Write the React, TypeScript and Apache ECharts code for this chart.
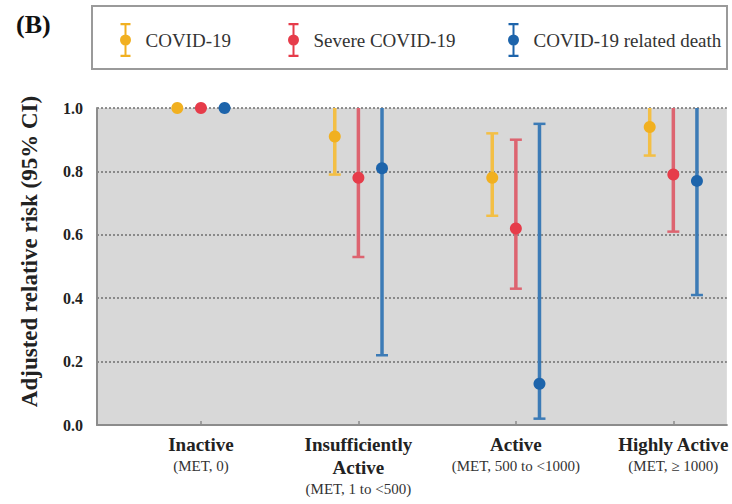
import React, { useEffect, useRef } from "react";
import * as echarts from "echarts";

const categories = ["Inactive", "Insufficiently\nActive", "Active", "Highly Active"];
const metLabels = ["(MET, 0)", "(MET, 1 to <500)", "(MET, 500 to <1000)", "(MET, \u2265 1000)"];

const seriesNames = ["COVID-19", "Severe COVID-19", "COVID-19 related death"];

const covidRR = [1.0, 0.91, 0.78, 0.94];
const covidLow = [1.0, 0.79, 0.66, 0.85];
const covidHigh = [1.0, 1.04, 0.92, 1.04];

const severeRR = [1.0, 0.78, 0.62, 0.79];
const severeLow = [1.0, 0.53, 0.43, 0.61];
const severeHigh = [1.0, 1.15, 0.9, 1.02];

const deathRR = [1.0, 0.81, 0.13, 0.77];
const deathLow = [1.0, 0.22, 0.02, 0.41];
const deathHigh = [1.0, 2.9, 0.95, 1.45];

const FONT = "'Liberation Serif', 'Times New Roman', serif";

const ICON =
  "path://M1,0 H11 V2.2 H1 Z M5,0 H7 V34 H5 Z M1,31.8 H11 V34 H1 Z M11.5,17 A5.5,5.5 0 1,1 0.5,17 A5.5,5.5 0 1,1 11.5,17 Z";

export default function App() {
  const ref = useRef<HTMLDivElement>(null);
  useEffect(() => {
    if (!ref.current) return;
    const chart = echarts.init(ref.current, null, { renderer: "svg" });

    const defs = [
      { name: seriesNames[0], rr: covidRR, low: covidLow, high: covidHigh, color: "#f1b020", line: "#f3bf45", offset: -0.15 },
      { name: seriesNames[1], rr: severeRR, low: severeLow, high: severeHigh, color: "#e63c4a", line: "#dd6470", offset: 0 },
      { name: seriesNames[2], rr: deathRR, low: deathLow, high: deathHigh, color: "#1d64ab", line: "#3c7bb6", offset: 0.15 },
    ];

    const catPositions = categories.map((_, i) => i);

    const series = defs.map((d) => ({
      type: "custom",
      name: d.name,
      color: d.color,
      itemStyle: { color: d.color },
      encode: { x: 0, y: [1, 2, 3] },
      data: d.rr.map((v, i) => [i + d.offset, v, d.low[i], d.high[i]]),
      renderItem: (params: any, api: any) => {
        const x = api.value(0);
        const mid = api.value(1);
        const lo = api.value(2);
        const hi = api.value(3);
        const cs = params.coordSys;
        const top = cs.y;
        const bottom = cs.y + cs.height;
        const pMid = api.coord([x, mid]);
        const pLo = api.coord([x, lo]);
        const pHi = api.coord([x, hi]);
        const px = pMid[0];
        const children: any[] = [];
        if (lo !== hi) {
          const yHi = Math.max(pHi[1], top);
          const yLo = Math.min(pLo[1], bottom);
          children.push({
            type: "line",
            shape: { x1: px, y1: yLo, x2: px, y2: yHi },
            style: { stroke: d.line, lineWidth: 3.5 },
          });
          if (pHi[1] >= top - 0.5) {
            children.push({
              type: "line",
              shape: { x1: px - 6, y1: pHi[1], x2: px + 6, y2: pHi[1] },
              style: { stroke: d.line, lineWidth: 2.5 },
            });
          }
          if (pLo[1] <= bottom + 0.5) {
            children.push({
              type: "line",
              shape: { x1: px - 6, y1: pLo[1], x2: px + 6, y2: pLo[1] },
              style: { stroke: d.line, lineWidth: 2.5 },
            });
          }
        }
        children.push({
          type: "circle",
          shape: { cx: px, cy: pMid[1], r: 6 },
          style: { fill: d.color },
        });
        return { type: "group", children };
      },
    }));

    const legendLefts = [115, 283, 503];

    const option: any = {
      animation: false,
      title: {
        text: "(B)",
        left: 11,
        top: 6,
        textStyle: { fontFamily: FONT, fontWeight: "bold", fontSize: 26, color: "#111" },
      },
      graphic: [
        {
          type: "rect",
          shape: { x: 92, y: 6, width: 635, height: 63 },
          style: { fill: "#fff", stroke: "#9a9a9a", lineWidth: 2 },
          z: -1,
        },
      ],
      legend: defs.map((d, i) => ({
        left: legendLefts[i],
        top: 18,
        itemWidth: 30,
        itemHeight: 34,
        selectedMode: false,
        data: [{ name: d.name, icon: ICON }],
        textStyle: { fontFamily: FONT, fontSize: 19, color: "#333" },
      })),
      grid: {
        left: 97,
        right: 5,
        top: 108,
        bottom: 79,
        show: true,
        backgroundColor: "#d8d8d8",
        borderWidth: 0,
      },
      xAxis: {
        type: "value",
        min: -0.66,
        max: 3.34,
        axisLine: { show: true, onZero: false, lineStyle: { color: "#8c8c8c", width: 2 } },
        axisTick: {
          show: true,
          inside: true,
          length: 4,
          customValues: catPositions,
          lineStyle: { color: "#8c8c8c", width: 1.5 },
        },
        axisLabel: {
          show: true,
          margin: 8,
          customValues: catPositions,
          formatter: (v: number) => {
            const i = Math.round(v);
            const lines = (categories[i] || "").split("\n").map((s) => `{b|${s}}`);
            return lines.join("\n") + `\n{s|${metLabels[i]}}`;
          },
          rich: {
            b: { fontFamily: FONT, fontWeight: "bold", fontSize: 19, lineHeight: 23, color: "#222" },
            s: { fontFamily: FONT, fontSize: 15, lineHeight: 20, color: "#333" },
          },
        },
        splitLine: { show: false },
      },
      yAxis: {
        type: "value",
        min: 0,
        max: 1,
        interval: 0.2,
        name: "Adjusted relative risk (95% CI)",
        nameLocation: "middle",
        nameGap: 56,
        nameTextStyle: {
          fontFamily: FONT,
          fontWeight: "bold",
          fontSize: 23,
          color: "#222",
          padding: [0, 0, 0, 30],
        },
        axisLine: { show: true, onZero: false, lineStyle: { color: "#8c8c8c", width: 2 } },
        axisTick: { show: false },
        axisLabel: {
          formatter: (v: number) => v.toFixed(1),
          fontFamily: FONT,
          fontWeight: "bold",
          fontSize: 16,
          color: "#222",
          margin: 14,
        },
        splitLine: { show: true, lineStyle: { color: "#6f6f6f", width: 1.5, type: [2, 2] } },
      },
      series,
    };

    chart.setOption(option);
    return () => chart.dispose();
  }, []);

  return (
    <div
      ref={ref}
      style={{ position: "fixed", left: 0, top: 0, width: 732, height: 504, background: "#fff" }}
    />
  );
}
